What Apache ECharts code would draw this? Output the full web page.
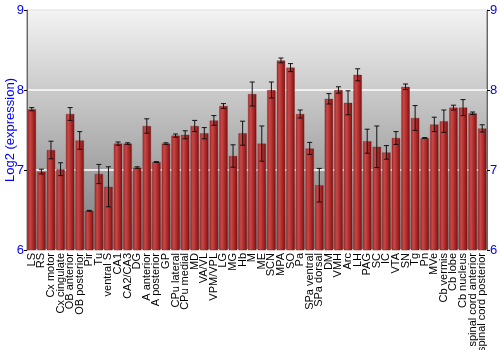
<!DOCTYPE html>
<html><head><meta charset="utf-8">
<script src="https://cdn.jsdelivr.net/npm/echarts@6/dist/echarts.min.js"></script>
<style>html,body{margin:0;padding:0;background:#fff}#c{width:500px;height:350px}</style>
</head><body><div id="c"></div>
<script>
var categories = ["LS","RS","Cx motor","Cx cingulate","OB anterior","OB posterior","Pir","Tu","ventral S","CA1","CA2/CA3","DG","A anterior","A posterior","GP","CPu lateral","CPu medial","MD","VA/VL","VPM/VPL","LG","MG","Hb","M","ME","SCN","MPA","SO","Pa","SPa ventral","SPa dorsal","DM","VMH","Arc","LH","PAG","SC","IC","VTA","SN","Tg","Pn","MVe","Cb vermis","Cb lobe","Cb nucleus","spinal cord anterior","spinal cord posterior"];
var values = [7.76,6.98,7.25,7.01,7.70,7.37,6.49,6.95,6.79,7.33,7.33,7.03,7.55,7.10,7.33,7.43,7.44,7.55,7.46,7.62,7.80,7.175,7.46,7.95,7.33,8.00,8.37,8.28,7.70,7.27,6.81,7.89,8.00,7.84,8.19,7.36,7.29,7.22,7.40,8.04,7.65,7.40,7.57,7.61,7.78,7.78,7.71,7.52];
var errors = [0.02,0.03,0.11,0.08,0.08,0.11,0.005,0.12,0.25,0.02,0.01,0.01,0.09,0.005,0.01,0.02,0.05,0.07,0.07,0.06,0.03,0.14,0.15,0.15,0.22,0.10,0.03,0.05,0.05,0.075,0.21,0.065,0.04,0.15,0.075,0.15,0.26,0.085,0.08,0.035,0.155,0.005,0.09,0.14,0.03,0.10,0.015,0.045];
var yTicks = [6,7,8,9];

var chart = echarts.init(document.getElementById('c'));
var errData = values.map(function(v,i){return [i, v-errors[i], v+errors[i]];});
var blue = '#0000ff';
var font = 'Liberation Sans, Arial, sans-serif';
function yAxisCfg(pos){
  return {
    type:'value', position:pos, min:yTicks[0], max:yTicks[yTicks.length-1], interval:1,
    axisLine:{show:true, lineStyle:{color:'#666'}},
    axisTick:{show:true, length:3, lineStyle:{color:'#000'}},
    axisLabel:{color:blue, fontSize:13, fontFamily:font, margin:3},
    splitLine:{show: pos==='left', lineStyle:{color:'#ffffff', width:1.5}}
  };
}
var left = yAxisCfg('left');
left.name = 'Log2 (expression)';
left.nameLocation = 'middle';
left.nameGap = 10;
left.nameMoveOverlap = false;
left.nameTextStyle = {color:blue, fontSize:13, fontFamily:font};
var right = yAxisCfg('right');

chart.setOption({
  animation:false,
  grid:{left:27, right:13, top:10, bottom:100, show:true, borderColor:'#777', borderWidth:1,
    containLabel:false, outerBoundsMode:'none',
    backgroundColor:new echarts.graphic.LinearGradient(0,0,0,1,[{offset:0,color:'#f3f3f3'},{offset:1,color:'#7a7a7a'}])},
  xAxis:{type:'category', data:categories,
    axisLine:{show:false}, axisTick:{show:false},
    axisLabel:{rotate:90, interval:0, fontSize:11, color:'#000', fontFamily:font, margin:3}},
  yAxis:[left, right],
  series:[
    {type:'bar', data:values, barCategoryGap:'12%', yAxisIndex:0,
      itemStyle:{color:new echarts.graphic.LinearGradient(0,0,1,0,[
        {offset:0,color:'#a82828'},{offset:0.3,color:'#c84848'},{offset:0.7,color:'#a52525'},{offset:1,color:'#761010'}]),
        borderColor:'rgba(120,20,20,0.6)', borderWidth:0.5}},
    {type:'custom', data:errData, yAxisIndex:0, z:10,
      renderItem:function(params, api){
        var x = api.value(0);
        var lo = api.coord([x, api.value(1)]);
        var hi = api.coord([x, api.value(2)]);
        var w = 2.5;
        var st = {stroke:'#111', lineWidth:1};
        return {type:'group', children:[
          {type:'line', shape:{x1:lo[0],y1:lo[1],x2:hi[0],y2:hi[1]}, style:st},
          {type:'line', shape:{x1:lo[0]-w,y1:lo[1],x2:lo[0]+w,y2:lo[1]}, style:st},
          {type:'line', shape:{x1:hi[0]-w,y1:hi[1],x2:hi[0]+w,y2:hi[1]}, style:st}
        ]};
      }}
  ]
});
</script></body></html>
